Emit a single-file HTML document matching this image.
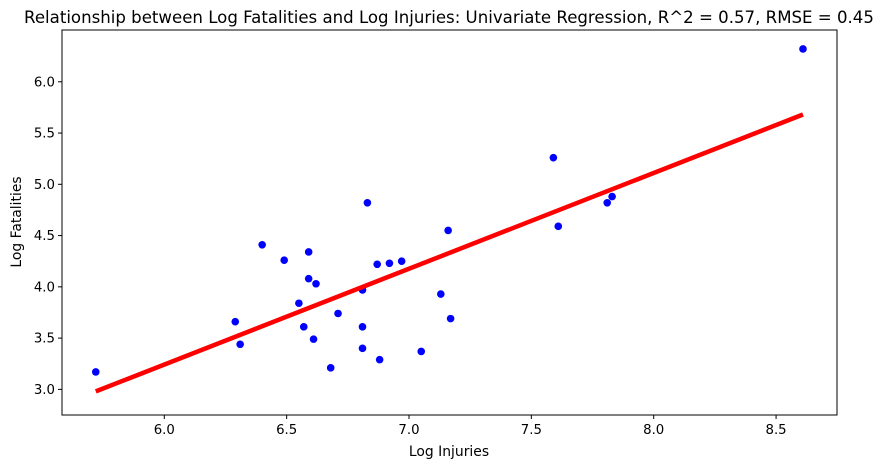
<!DOCTYPE html>
<html><head><meta charset="utf-8"><style>
body{margin:0;background:#fff;}
svg text{font-family:"DejaVu Sans","Liberation Sans",sans-serif;fill:#000;}
</style></head><body>
<svg id="chart" width="886" height="468" xmlns="http://www.w3.org/2000/svg">
<rect width="886" height="468" fill="#fff"/>
<text x="449" y="23" font-size="16.6" text-anchor="middle">Relationship between Log Fatalities and Log Injuries: Univariate Regression, R^2 = 0.57, RMSE = 0.45</text>
<g id="plot"></g>
<text x="449" y="456" font-size="13.9" text-anchor="middle">Log Injuries</text>
<text transform="translate(21,222) rotate(-90)" font-size="13.9" text-anchor="middle">Log Fatalities</text>
</svg>
<script>
const xVals=[5.72,6.29,6.31,6.40,6.49,6.55,6.57,6.59,6.59,6.61,6.62,6.68,6.71,6.81,6.81,6.81,6.83,6.87,6.88,6.92,6.97,7.05,7.13,7.16,7.17,7.59,7.61,7.81,7.83,8.61];
const yVals=[3.17,3.66,3.44,4.41,4.26,3.84,3.61,4.34,4.08,3.49,4.03,3.21,3.74,3.97,3.61,3.40,4.82,4.22,3.29,4.23,4.25,3.37,3.93,4.55,3.69,5.26,4.59,4.82,4.88,6.32];
const xTicks=[6.0,6.5,7.0,7.5,8.0,8.5];
const yTicks=[3.0,3.5,4.0,4.5,5.0,5.5,6.0];
const ns="http://www.w3.org/2000/svg";
const L=62,R=837,T=30,B=415;
const X0=5.582,X1=8.749,Y0=2.75,Y1=6.505;
const sx=v=>L+(v-X0)/(X1-X0)*(R-L);
const sy=v=>B-(v-Y0)/(Y1-Y0)*(B-T);
const g=document.getElementById('plot');
function mk(t,a){const e=document.createElementNS(ns,t);for(const k in a)e.setAttribute(k,a[k]);g.appendChild(e);return e;}
xTicks.forEach(v=>{
  const l=mk('line',{x1:sx(v),x2:sx(v),y1:B,y2:B+4,stroke:'#000','stroke-width':1});
  
  
  const t=mk('text',{x:sx(v),y:B+19,'font-size':13.3,'text-anchor':'middle'});
  t.textContent=v.toFixed(1);
  
  
});
yTicks.forEach(v=>{
  const l=mk('line',{x1:L-4,x2:L,y1:sy(v),y2:sy(v),stroke:'#000','stroke-width':1});
  
  
  const t=mk('text',{x:L-7,y:sy(v)+4.5,'font-size':13.3,'text-anchor':'end'});
  t.textContent=v.toFixed(1);
  
  
});
xVals.forEach((x,i)=>{
  const c=mk('circle',{cx:sx(x),cy:sy(yVals[i]),r:3.8,fill:'#0000ff'});
  
  
});
const n=xVals.length;
const mx=xVals.reduce((a,b)=>a+b,0)/n, my=yVals.reduce((a,b)=>a+b,0)/n;
let sxy=0,sxx=0;xVals.forEach((x,i)=>{sxy+=(x-mx)*(yVals[i]-my);sxx+=(x-mx)*(x-mx);});
const slope=sxy/sxx, icpt=my-slope*mx;
const xmin=Math.min(...xVals), xmax=Math.max(...xVals);
const rl=mk('line',{x1:sx(xmin),y1:sy(icpt+slope*xmin),x2:sx(xmax),y2:sy(icpt+slope*xmax),stroke:'#ff0000','stroke-width':4.5});


const fr=mk('rect',{x:L,y:T,width:R-L,height:B-T,fill:'none',stroke:'#000','stroke-width':1});


</script>
</body></html>
